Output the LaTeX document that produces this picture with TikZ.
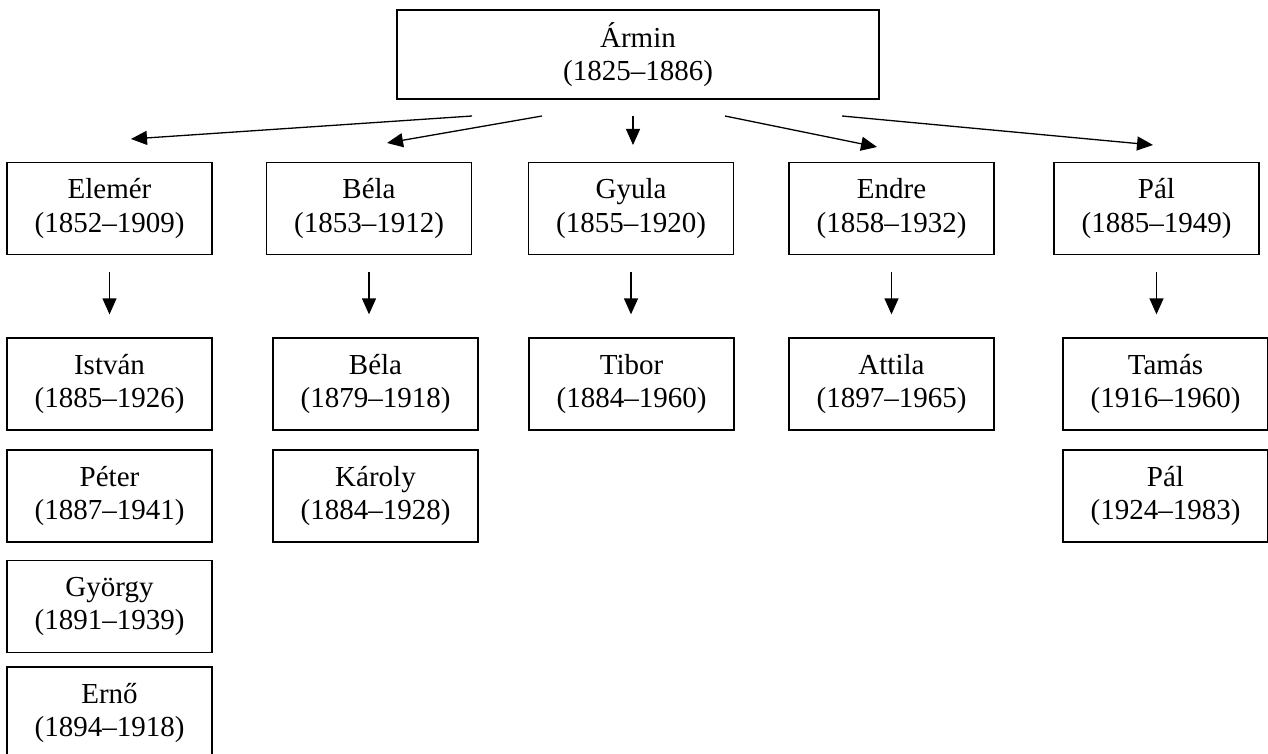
\documentclass[tikz,border=0pt]{standalone}
\usepackage{fontspec}
\setmainfont{Liberation Serif}
\usetikzlibrary{arrows.meta}

\begin{document}
\begin{tikzpicture}[x=0.5pt, y=-0.5pt, line width=0.65pt,
  person/.style = {draw, rectangle, align=center, inner sep=0pt, minimum width=102.5pt, minimum height=46pt, font=\fontsize{14.5}{16.6}\selectfont},
  arr/.style = {-{Triangle[length=8pt,width=7pt]}}]
  \useasboundingbox (0,0) rectangle (1268,754);
  % top
  \node[person, minimum width=241pt, minimum height=44.5pt] (armin) at (638,54.5) {Ármin\\(1825–1886)};
  % sons
  \node[person] (elemer) at (109.5,208.5) {Elemér\\(1852–1909)};
  \node[person] (bela) at (369,208.5) {Béla\\(1853–1912)};
  \node[person] (gyula) at (631,208.5) {Gyula\\(1855–1920)};
  \node[person] (endre) at (891.5,208.5) {Endre\\(1858–1932)};
  \node[person] (pal) at (1156.5,208.5) {Pál\\(1885–1949)};
  % grandsons
  \node[person] (istvan) at (109.5,384) {István\\(1885–1926)};
  \node[person] (peter) at (109.5,496) {Péter\\(1887–1941)};
  \node[person] (gyorgy) at (109.5,606.5) {György\\(1891–1939)};
  \node[person] (erno) at (109.5,713) {Ernő\\(1894–1918)};
  \node[person] (bela2) at (375.5,384) {Béla\\(1879–1918)};
  \node[person] (karoly) at (375.5,496) {Károly\\(1884–1928)};
  \node[person] (tibor) at (631.5,384) {Tibor\\(1884–1960)};
  \node[person] (attila) at (891.5,384) {Attila\\(1897–1965)};
  \node[person] (tamas) at (1165.5,384) {Tamás\\(1916–1960)};
  \node[person] (pal2) at (1165.5,496) {Pál\\(1924–1983)};
  % arrow ends under the top box
  \coordinate (s1) at (472,116);
  \coordinate (e1) at (131,139);
  \coordinate (s2) at (542,116);
  \coordinate (e2) at (387,143);
  \coordinate (s3) at (633,116);
  \coordinate (e3) at (633,145);
  \coordinate (s4) at (725,116);
  \coordinate (e4) at (877,147);
  \coordinate (s5) at (842,116);
  \coordinate (e5) at (1153,145);
  \draw[arr] (s1) -- (e1);
  \draw[arr] (s2) -- (e2);
  \draw[arr] (s3) -- (e3);
  \draw[arr] (s4) -- (e4);
  \draw[arr] (s5) -- (e5);
  % down to the grandsons
  \draw[arr, shorten <=8.5pt, shorten >=11.5pt] (elemer.south) -- (elemer.south |- istvan.north);
  \draw[arr, shorten <=8.5pt, shorten >=11.5pt] (bela.south) -- (bela.south |- bela2.north);
  \draw[arr, shorten <=8.5pt, shorten >=11.5pt] (gyula.south) -- (gyula.south |- tibor.north);
  \draw[arr, shorten <=8.5pt, shorten >=11.5pt] (endre.south) -- (endre.south |- attila.north);
  \draw[arr, shorten <=8.5pt, shorten >=11.5pt] (pal.south) -- (pal.south |- tamas.north);
\end{tikzpicture}
\end{document}
